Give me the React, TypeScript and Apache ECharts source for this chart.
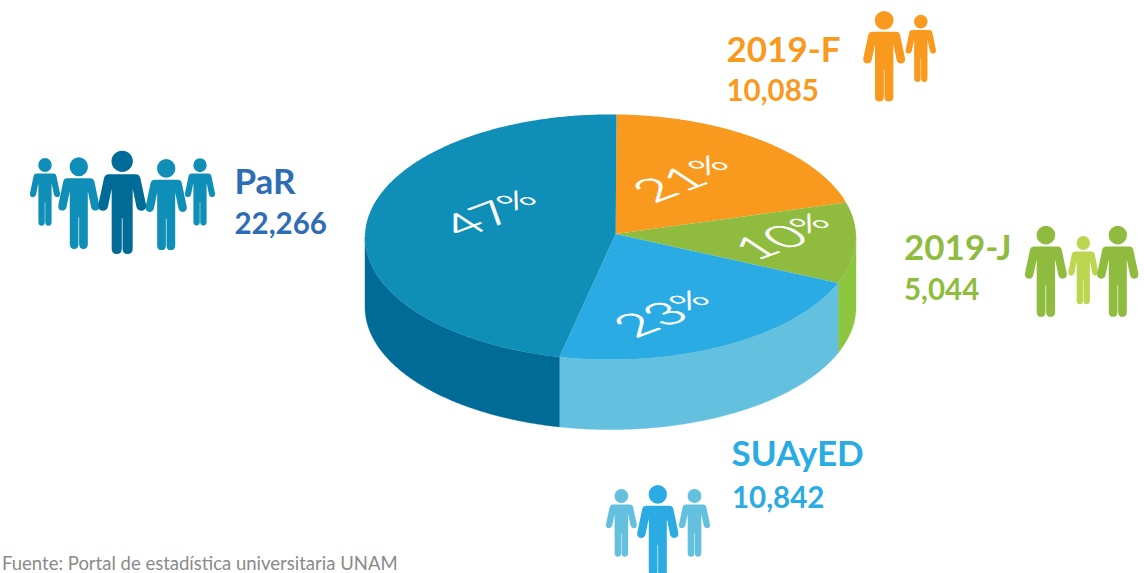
import React, { useEffect, useRef } from "react";
import * as echarts from "echarts";

// Data
const categories = ["2019-F", "2019-J", "SUAyED", "PaR"];
const headcountLabels = ["10,085", "5,044", "10,842", "22,266"];
const percentValues = [21, 10, 23, 47];
const sliceShares = [20.06, 10.67, 22.22, 47.05];
const footnote = "Fuente: Portal de estadística universitaria UNAM";

// Styles
const topColors = ["#f9991d", "#8fbc3f", "#2aabe4", "#0f8eb7"];
const wallColors = ["#f9991d", "#8cc63f", "#63c1df", "#006b96"];
const labelColors = ["#f9991d", "#8fbc3f", "#2aabe4", "#2e6db4"];

// Geometry of the tilted pie
const CX = 610.5, CY = 237, RX = 245.5, RY = 122.6, DEPTH = 70;
const APEX_X = 615.7, APEX_Y = 234;
const START_DEG = -88.6;
const percentAnchors = [[682, 178], [783, 236], [663, 313], [490, 213]];
const TEXT_ROT = (37 * Math.PI) / 180;

const titleAnchors = [[726.5, 47.5], [904, 246], [731.5, 451.5], [234.5, 180]];
const countAnchors = [[726.5, 89.5], [904, 288], [732, 496.5], [234.5, 222.5]];

// [x, y, w, h, colour]
const people: [number, number, number, number, string][] = [
  [30, 158, 30, 67.7, "#0f8eb7"],
  [185, 158.3, 30, 67.3, "#0f8eb7"],
  [58.3, 157.3, 41, 91.7, "#0f8eb7"],
  [145.7, 159, 41, 91, "#0f8eb7"],
  [98.3, 150.7, 47.7, 103.3, "#006b96"],
  [863.3, 11, 41.7, 90.7, "#f9991d"],
  [905.7, 14.7, 30.3, 67.3, "#f9991d"],
  [1068.3, 236, 30, 68.3, "#bcd64f"],
  [1025, 225.7, 41.7, 91, "#8fbc3f"],
  [1097.3, 225.7, 41, 91, "#8fbc3f"],
  [606, 489, 30.7, 67.7, "#63c1df"],
  [679, 489, 31, 67.7, "#63c1df"],
  [637.3, 485, 41, 91, "#2aabe4"],
];

const PERSON_W = 125, PERSON_H = 272;
const personPath =
  "M34.5 28 A28 28 0 1 1 90.5 28 A28 28 0 1 1 34.5 28 Z " +
  "M28 62 L97 62 Q108 62 110 72 L125 142 Q127 157 113 158 Q103 158 100 148 L90 100 L90 258 Q90 272 76 272 Q64 272 63.5 258 L63.5 178 L61.5 178 L61.5 258 Q61 272 49 272 Q35 272 35 258 L35 100 L25 148 Q22 158 12 158 Q-2 157 0 142 L15 72 Q17 62 28 62 Z";
echarts.graphic.registerShape("person", echarts.graphic.extendPath(personPath, {}) as any);

const FONT = "Lato, 'Noto Sans', sans-serif";

function rim(deg: number, dy = 0): number[] {
  const t = (deg * Math.PI) / 180;
  return [CX + RX * Math.cos(t), CY + RY * Math.sin(t) + dy];
}

function arc(a: number, b: number, dy = 0): number[][] {
  const pts: number[][] = [];
  const n = Math.max(2, Math.ceil(Math.abs(b - a) * 2));
  for (let i = 0; i <= n; i++) pts.push(rim(a + ((b - a) * i) / n, dy));
  return pts;
}

export default function App() {
  const ref = useRef<HTMLDivElement>(null);
  useEffect(() => {
    document.body.style.margin = "0";
    const chart = echarts.init(ref.current!, null, { renderer: "svg" });
    const total = sliceShares.reduce((s, v) => s + v, 0);

    const renderItem = (params: any, api: any) => {
      const i = params.dataIndex;
      let before = 0;
      for (let k = 0; k < i; k++) before += sliceShares[k];
      const a = START_DEG + (before / total) * 360;
      const b = a + (api.value(0) / total) * 360;
      const children: any[] = [];
      const wa = Math.max(a, 0), wb = Math.min(b, 180);
      if (wb > wa) {
        children.push({
          type: "polygon",
          shape: { points: [...arc(wa, wb), ...arc(wb, wa, DEPTH)] },
          style: { fill: wallColors[i], stroke: wallColors[i], lineWidth: 0.4 },
        });
      }
      children.push({
        type: "polygon",
        shape: { points: [[APEX_X, APEX_Y], ...arc(a, b)] },
        style: { fill: topColors[i] },
      });
      return { type: "group", children };
    };

    const graphic: any[] = [];
    people.forEach(([x, y, w, h, fill]) => {
      graphic.push({
        type: "person", x, y, scaleX: w / PERSON_W, scaleY: h / PERSON_H,
        style: { fill },
      });
    });
    categories.forEach((c, i) => {
      graphic.push({
        type: "text", x: titleAnchors[i][0], y: titleAnchors[i][1],
        style: { text: c, fill: labelColors[i], font: `700 35px ${FONT}`, textVerticalAlign: "middle" },
      });
      graphic.push({
        type: "text", x: countAnchors[i][0], y: countAnchors[i][1],
        style: { text: headcountLabels[i], fill: labelColors[i], font: `700 29.5px ${FONT}`, textVerticalAlign: "middle" },
      });
      graphic.push({
        type: "group", x: percentAnchors[i][0], y: percentAnchors[i][1], scaleY: 0.5, z: 100,
        children: [{
          type: "text", rotation: TEXT_ROT, z: 100,
          style: {
            text: `{n|${percentValues[i]}}{p|%}`,
            fill: "#ffffff",
            align: "center",
            verticalAlign: "middle",
            rich: {
              n: { fontSize: 62, fontFamily: "Lato", fontWeight: 300, fill: "#ffffff", stroke: "#ffffff", lineWidth: 1, lineHeight: 56 },
              p: { fontSize: 44, fontFamily: "Lato", fontWeight: 300, fill: "#ffffff", stroke: "#ffffff", lineWidth: 1, verticalAlign: "top", lineHeight: 44 },
            },
          },
        }],
      });
    });
    graphic.push({
      type: "text", x: 2, y: 563,
      style: { text: footnote, fill: "#8a8a8a", font: `400 18.5px ${FONT}`, textVerticalAlign: "middle" },
    });

    chart.setOption({
      animation: false,
      backgroundColor: "#ffffff",
      series: [{
        type: "custom",
        coordinateSystem: "none",
        silent: true,
        renderItem,
        data: sliceShares.map((v, i) => ({ name: categories[i], value: [v] })),
      }],
      graphic,
    });
    return () => chart.dispose();
  }, []);
  return <div ref={ref} style={{ position: "fixed", left: 0, top: 0, width: 1144, height: 573, overflow: "hidden" }} />;
}
